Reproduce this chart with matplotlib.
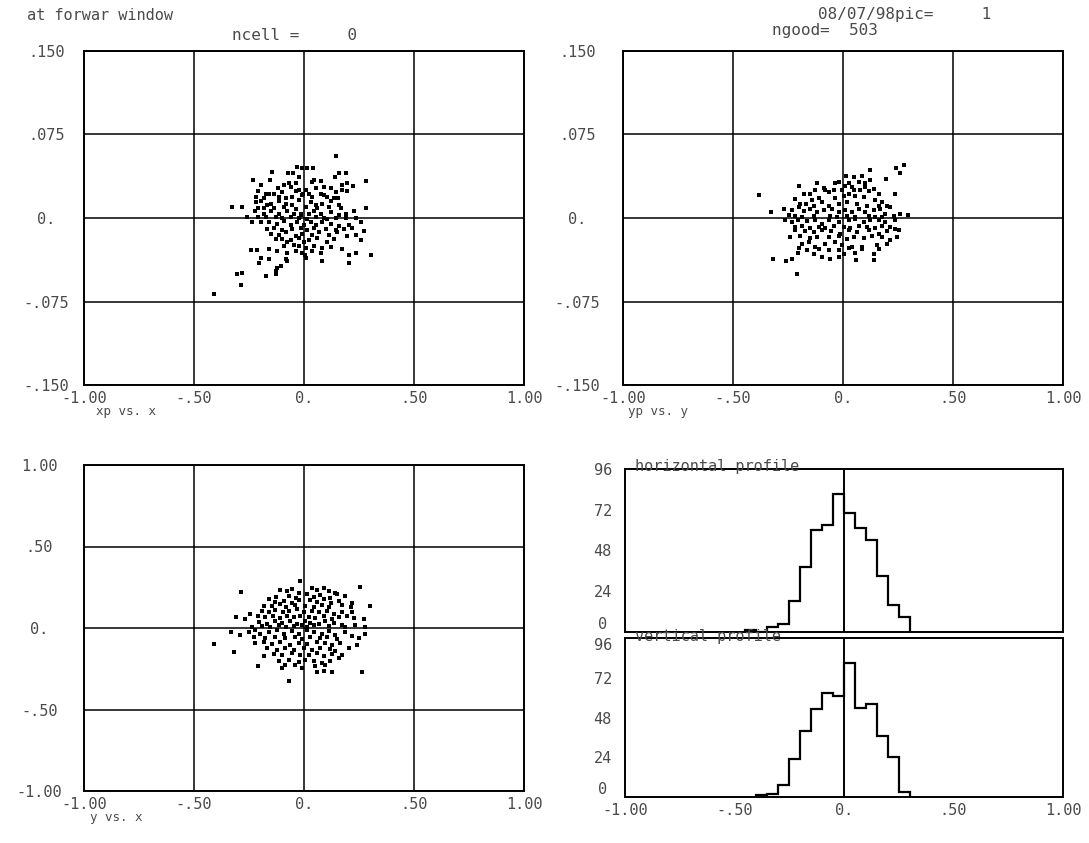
import matplotlib
matplotlib.use("Agg")
import matplotlib.pyplot as plt

# x / xp (top left)
tl_x = [
    0.144, -0.030, -0.008, 0.015, 0.042, -0.147, -0.071, -0.048, 0.159, 0.189,
    0.141, -0.230, -0.156, -0.023, 0.045, -0.197, -0.091, -0.068, -0.038, 0.038,
    0.076, 0.174, 0.197, 0.224, 0.280, -0.118, -0.061, 0.008, 0.053, 0.091,
    0.121, -0.208, -0.174, -0.159, -0.136, -0.102, -0.038, -0.023, 0.023, 0.076,
    0.091, 0.144, 0.174, 0.197, -0.217, -0.182, -0.114, -0.083, -0.053, -0.008,
    0.038, 0.106, 0.136, 0.156, -0.220, -0.197, -0.167, -0.152, -0.114, -0.083,
    -0.053, -0.023, 0.030, 0.053, 0.083, 0.121, 0.159, -0.326, -0.280, -0.208,
    -0.182, -0.136, -0.091, -0.038, 0.008, 0.061, 0.114, 0.167, 0.280, 0.227,
    -0.223, -0.182, -0.152, -0.114, -0.076, -0.045, -0.015, 0.023, 0.045, 0.076,
    0.121, 0.159, 0.189, -0.258, -0.208, -0.174, -0.129, -0.098, -0.061, -0.023,
    0.015, 0.053, 0.091, 0.106, 0.144, 0.189, 0.235, -0.235, -0.197, -0.159,
    -0.121, -0.091, -0.061, -0.030, 0.000, 0.030, 0.053, 0.083, 0.121, 0.159,
    0.205, 0.258, -0.167, -0.136, -0.098, -0.053, -0.015, 0.015, 0.045, 0.098,
    0.144, 0.182, 0.220, 0.273, -0.152, -0.114, -0.080, -0.038, -0.008, 0.038,
    0.068, 0.114, 0.152, 0.197, 0.235, -0.129, -0.098, -0.061, -0.023, 0.023,
    0.061, 0.106, 0.136, 0.258, -0.076, -0.091, -0.045, -0.023, 0.008, 0.045,
    0.083, 0.121, 0.174, -0.242, -0.212, -0.159, -0.121, -0.076, -0.038, -0.008,
    0.038, 0.076, 0.205, 0.235, 0.303, -0.197, -0.159, -0.083, 0.008, 0.083,
    -0.205, -0.106, -0.076, 0.205, -0.121, -0.129, -0.303, -0.280, -0.174, -0.129,
    -0.288, -0.409, 0.005, 0.002, -0.005, -0.015,
]
tl_xp = [
    0.056, 0.046, 0.045, 0.045, 0.045, 0.041, 0.040, 0.040, 0.040, 0.040,
    0.037, 0.034, 0.034, 0.037, 0.034, 0.030, 0.030, 0.031, 0.031, 0.032,
    0.033, 0.030, 0.031, 0.029, 0.033, 0.027, 0.028, 0.025, 0.027, 0.028,
    0.027, 0.024, 0.022, 0.022, 0.022, 0.023, 0.024, 0.025, 0.022, 0.022,
    0.021, 0.023, 0.025, 0.024, 0.019, 0.018, 0.019, 0.018, 0.019, 0.021,
    0.019, 0.019, 0.018, 0.018, 0.014, 0.015, 0.012, 0.013, 0.015, 0.013,
    0.012, 0.016, 0.014, 0.012, 0.013, 0.015, 0.012, 0.010, 0.010, 0.009,
    0.009, 0.009, 0.010, 0.008, 0.010, 0.009, 0.010, 0.009, 0.009, 0.006,
    0.006, 0.004, 0.006, 0.004, 0.006, 0.004, 0.003, 0.004, 0.006, 0.004,
    0.005, 0.003, 0.004, 0.001, 0.001, 0.001, 0.001, 0.000, 0.001, 0.000,
    -0.001, 0.001, 0.000, -0.001, 0.000, 0.000, 0.000, -0.004, -0.004, -0.004,
    -0.005, -0.003, -0.006, -0.004, -0.006, -0.004, -0.006, -0.004, -0.005, -0.007,
    -0.006, -0.004, -0.010, -0.009, -0.011, -0.010, -0.009, -0.011, -0.009, -0.010,
    -0.011, -0.010, -0.009, -0.012, -0.014, -0.015, -0.013, -0.016, -0.014, -0.015,
    -0.013, -0.015, -0.013, -0.016, -0.015, -0.019, -0.019, -0.020, -0.018, -0.020,
    -0.018, -0.022, -0.019, -0.020, -0.022, -0.025, -0.024, -0.025, -0.027, -0.025,
    -0.027, -0.026, -0.028, -0.029, -0.029, -0.028, -0.030, -0.031, -0.030, -0.031,
    -0.030, -0.031, -0.033, -0.031, -0.033, -0.036, -0.037, -0.037, -0.036, -0.039,
    -0.040, -0.043, -0.039, -0.040, -0.045, -0.048, -0.050, -0.049, -0.052, -0.050,
    -0.060, -0.068, -0.033, -0.022, 0.022, 0.004,
]

# y / yp (top right)
tr_y = [
    0.276, 0.261, 0.242, 0.195, 0.238, -0.380, -0.326, -0.209, -0.318, -0.259,
    -0.232, 0.059, 0.139, 0.261, 0.295, 0.245, 0.253, 0.015, 0.048, 0.086,
    0.124, -0.020, 0.026, 0.071, 0.102, 0.124, -0.198, -0.118, -0.080, -0.038,
    0.011, -0.179, -0.148, -0.126, -0.088, -0.065, -0.042, -0.005, 0.026, 0.048,
    0.079, 0.098, 0.117, 0.139, 0.162, 0.041, -0.217, -0.141, -0.111, -0.035,
    0.003, 0.056, 0.094, 0.147, 0.177, -0.197, -0.168, -0.133, -0.095, -0.065,
    -0.020, 0.018, 0.064, 0.109, 0.162, 0.200, 0.215, -0.270, -0.232, -0.202,
    -0.179, -0.148, -0.118, -0.088, -0.050, -0.020, 0.011, 0.041, 0.071, 0.102,
    0.139, 0.170, 0.192, -0.247, -0.217, -0.186, -0.133, -0.058, -0.027, 0.018,
    0.056, 0.117, 0.147, 0.177, 0.230, -0.262, -0.232, -0.205, -0.164, -0.126,
    -0.095, -0.065, -0.020, 0.026, 0.056, 0.094, 0.124, 0.162, 0.192, 0.238,
    -0.217, -0.186, -0.148, -0.111, -0.080, -0.042, 0.003, 0.033, 0.071, 0.109,
    0.147, 0.177, 0.215, -0.220, -0.174, -0.133, -0.095, -0.053, -0.012, 0.026,
    0.064, 0.117, 0.162, 0.200, 0.238, -0.239, -0.194, -0.148, -0.118, -0.065,
    -0.020, 0.018, 0.048, 0.094, 0.132, 0.177, 0.215, -0.186, -0.156, -0.126,
    -0.080, -0.035, -0.005, 0.041, 0.086, 0.155, 0.200, -0.202, -0.164, -0.111,
    -0.065, -0.020, 0.026, 0.086, 0.162, -0.205, -0.133, -0.095, -0.058, 0.003,
    0.056, 0.139, -0.020,
]
tr_yp = [
    0.048, 0.040, 0.045, 0.035, 0.022, 0.021, 0.005, -0.050, -0.037, -0.039,
    -0.037, -0.038, -0.038, 0.004, 0.003, -0.017, -0.011, 0.038, 0.037, 0.038,
    0.043, 0.032, 0.031, 0.032, 0.031, 0.034, 0.029, 0.031, 0.025, 0.031,
    0.029, 0.022, 0.022, 0.025, 0.027, 0.023, 0.025, 0.025, 0.022, 0.025,
    0.025, 0.028, 0.024, 0.026, 0.022, 0.028, 0.017, 0.016, 0.018, 0.018,
    0.020, 0.020, 0.019, 0.016, 0.014, 0.013, 0.013, 0.011, 0.014, 0.011,
    0.013, 0.014, 0.013, 0.011, 0.011, 0.011, 0.010, 0.008, 0.007, 0.010,
    0.006, 0.008, 0.005, 0.007, 0.008, 0.005, 0.007, 0.005, 0.008, 0.005,
    0.007, 0.008, 0.004, 0.003, 0.002, 0.001, 0.002, 0.002, 0.001, 0.002,
    0.001, 0.002, 0.001, 0.001, 0.002, -0.002, -0.004, -0.002, -0.003, -0.002,
    -0.005, -0.002, -0.004, -0.002, -0.001, -0.004, -0.002, -0.002, -0.004, -0.002,
    -0.008, -0.007, -0.009, -0.008, -0.009, -0.007, -0.008, -0.009, -0.007, -0.008,
    -0.009, -0.007, -0.008, -0.011, -0.012, -0.013, -0.011, -0.012, -0.014, -0.011,
    -0.013, -0.011, -0.014, -0.012, -0.010, -0.017, -0.016, -0.018, -0.017, -0.017,
    -0.016, -0.019, -0.017, -0.018, -0.016, -0.017, -0.020, -0.023, -0.022, -0.026,
    -0.023, -0.022, -0.024, -0.026, -0.026, -0.024, -0.023, -0.027, -0.029, -0.028,
    -0.029, -0.029, -0.027, -0.028, -0.028, -0.031, -0.032, -0.035, -0.037, -0.032,
    -0.031, -0.032, -0.035,
]

# x / y (bottom left)
bl_x = [
    -0.017, -0.285, 0.256, -0.411, -0.320, 0.302, 0.264, -0.067, -0.209, -0.100,
    -0.330, -0.308, -0.108, -0.077, -0.055, 0.036, 0.059, 0.089, 0.112, 0.142,
    -0.024, 0.014, -0.127, -0.070, -0.036, 0.044, 0.074, 0.120, 0.150, 0.188,
    -0.161, -0.130, -0.092, -0.055, -0.024, 0.029, 0.059, 0.089, 0.124, 0.158,
    0.218, -0.180, -0.145, -0.108, -0.082, -0.039, 0.006, 0.044, 0.082, 0.112,
    0.173, 0.215, -0.191, -0.161, -0.130, -0.097, -0.067, -0.032, -0.002, 0.036,
    0.067, 0.105, 0.135, 0.173, 0.218, -0.244, -0.209, -0.176, -0.142, -0.108,
    -0.077, -0.047, -0.017, 0.021, 0.052, 0.089, 0.127, 0.158, 0.195, 0.226,
    0.271, -0.267, -0.206, -0.168, -0.133, -0.100, -0.062, -0.032, 0.003, 0.029,
    0.067, 0.097, 0.135, 0.173, 0.233, -0.236, -0.191, -0.153, -0.115, -0.082,
    -0.047, -0.009, 0.014, 0.044, 0.112, 0.188, 0.279, -0.289, -0.252, -0.221,
    -0.198, -0.161, -0.123, -0.092, -0.055, -0.024, 0.014, 0.044, 0.082, 0.112,
    0.142, 0.188, 0.218, 0.279, -0.229, -0.176, -0.130, -0.085, -0.039, -0.009,
    0.029, 0.074, 0.105, 0.150, 0.248, -0.221, -0.183, -0.145, -0.108, -0.062,
    -0.024, 0.014, 0.059, 0.097, 0.127, 0.165, 0.241, -0.168, -0.123, -0.085,
    -0.047, -0.002, 0.036, 0.074, 0.120, 0.142, 0.203, -0.183, -0.138, -0.100,
    -0.055, -0.017, 0.021, 0.059, 0.089, 0.127, 0.173, -0.115, -0.070, -0.024,
    0.006, 0.044, 0.082, 0.120, 0.158, -0.085, -0.039, -0.009, 0.052, 0.097,
    0.059, 0.089, 0.127,
]
bl_y = [
    0.291, 0.220, 0.250, -0.098, -0.148, 0.136, -0.269, -0.327, -0.234, -0.244,
    -0.024, 0.066, 0.236, 0.226, 0.240, 0.246, 0.236, 0.246, 0.226, 0.216,
    0.216, 0.206, 0.192, 0.196, 0.186, 0.192, 0.200, 0.186, 0.206, 0.196,
    0.176, 0.160, 0.166, 0.156, 0.172, 0.172, 0.160, 0.176, 0.156, 0.166,
    0.156, 0.136, 0.132, 0.146, 0.126, 0.140, 0.136, 0.126, 0.140, 0.126,
    0.140, 0.126, 0.106, 0.096, 0.112, 0.096, 0.106, 0.116, 0.100, 0.106,
    0.096, 0.106, 0.086, 0.100, 0.096, 0.086, 0.076, 0.066, 0.076, 0.060,
    0.076, 0.066, 0.076, 0.066, 0.060, 0.076, 0.056, 0.066, 0.076, 0.060,
    0.056, 0.056, 0.036, 0.026, 0.046, 0.032, 0.040, 0.026, 0.046, 0.032,
    0.026, 0.040, 0.032, 0.020, 0.016, 0.006, 0.012, 0.006, 0.016, 0.006,
    0.012, 0.020, 0.006, 0.016, 0.010, 0.006, 0.006, -0.044, -0.024, -0.014,
    -0.034, -0.024, -0.014, -0.034, -0.020, -0.034, -0.014, -0.024, -0.034, -0.020,
    -0.044, -0.024, -0.048, -0.034, -0.054, -0.060, -0.054, -0.064, -0.054, -0.068,
    -0.054, -0.064, -0.054, -0.068, -0.060, -0.094, -0.084, -0.100, -0.088, -0.104,
    -0.094, -0.100, -0.084, -0.094, -0.104, -0.094, -0.104, -0.124, -0.134, -0.120,
    -0.134, -0.124, -0.134, -0.120, -0.128, -0.144, -0.124, -0.174, -0.160, -0.164,
    -0.154, -0.168, -0.164, -0.154, -0.174, -0.160, -0.168, -0.204, -0.194, -0.208,
    -0.194, -0.204, -0.214, -0.200, -0.184, -0.228, -0.224, -0.244, -0.234, -0.224,
    -0.273, -0.263, -0.267,
]

# profiles (bin edges and counts)
hprof_edges = [-0.45, -0.40, -0.35, -0.30, -0.25, -0.20, -0.15, -0.10, -0.05,
               0.00, 0.05, 0.10, 0.15, 0.20, 0.25, 0.30]
hprof_counts = [1, 0, 3, 5, 18, 38, 60, 63, 81, 70, 61, 54, 33, 16, 9]
vprof_edges = [-0.40, -0.35, -0.30, -0.25, -0.20, -0.15, -0.10, -0.05,
               0.00, 0.05, 0.10, 0.15, 0.20, 0.25, 0.30]
vprof_counts = [1, 2, 7, 23, 40, 53, 63, 61, 81, 54, 56, 37, 24, 3]

xticks = [-1.0, -0.5, 0.0, 0.5, 1.0]
xtick_labels = ["-1.00", "-.50", "0.", ".50", "1.00"]
ang_ticks = [-0.15, -0.075, 0.0, 0.075, 0.15]
ang_labels = ["-.150", "-.075", "0.", ".075", ".150"]
pos_ticks = [-1.0, -0.5, 0.0, 0.5, 1.0]
pos_labels = ["-1.00", "-.50", "0.", ".50", "1.00"]
hist_ticks = [0, 24, 48, 72, 96]
hist_labels = ["0", "24", "48", "72", "96"]

W, H = 1089, 843
MONO = "DejaVu Sans Mono"
GRAY = "#4a4a4a"


def rect(x0, y0, x1, y1):
    return [x0 / W, 1 - y1 / H, (x1 - x0) / W, (y1 - y0) / H]


def style(ax, ypad):
    for s in ax.spines.values():
        s.set_linewidth(1.4)
        s.set_color("black")
    ax.tick_params(length=0, labelsize=11, labelcolor=GRAY, pad=4)
    ax.tick_params(axis="y", pad=ypad)
    for lab in ax.get_xticklabels() + ax.get_yticklabels():
        lab.set_fontfamily(MONO)
    for lab in ax.get_yticklabels():
        lab.set_ha("center")


def scatter_panel(ax, xs, ys, yt, yl, ylim, ypad):
    ax.scatter(xs, ys, s=5, marker="s", color="black", linewidths=0, zorder=3)
    ax.set_xlim(-1, 1)
    ax.set_ylim(*ylim)
    ax.set_xticks(xticks, xtick_labels)
    ax.set_yticks(yt, yl)
    ax.grid(True, color="black", lw=1.1)
    style(ax, ypad)


fig = plt.figure(figsize=(W / 100, H / 100), dpi=100)

ax1 = fig.add_axes(rect(84, 51, 524, 385))
scatter_panel(ax1, tl_x, tl_xp, ang_ticks, ang_labels, (-0.15, 0.15), 27)

ax2 = fig.add_axes(rect(623, 51, 1063, 385))
scatter_panel(ax2, tr_y, tr_yp, ang_ticks, ang_labels, (-0.15, 0.15), 33)

ax3 = fig.add_axes(rect(84, 465, 524, 791))
scatter_panel(ax3, bl_x, bl_y, pos_ticks, pos_labels, (-1, 1), 32)

# profiles
ax4 = fig.add_axes(rect(625, 469, 1063, 632))
ax5 = fig.add_axes(rect(625, 638, 1063, 797))
for ax, edges, counts in [(ax4, hprof_edges, hprof_counts), (ax5, vprof_edges, vprof_counts)]:
    ax.stairs(counts, edges, color="black", lw=1.6)
    ax.axvline(0, color="black", lw=1.4)
    ax.set_xlim(-1, 1)
    ax.set_ylim(0, 96)
    ax.set_yticks(hist_ticks, hist_labels)
    ax.set_xticks(xticks, xtick_labels)
    style(ax, 16)
ax4.tick_params(axis="x", labelbottom=False)
# keep the 0 / 96 labels at the join, and the bottom 0, clear of neighbours
ax4.get_yticklabels()[0].set_va("bottom")
ax5.get_yticklabels()[-1].set_va("top")
ax5.get_yticklabels()[0].set_va("bottom")

txt = dict(family=MONO, color=GRAY, va="center", ha="left")
fig.text(27 / W, 1 - 16 / H, "at forwar window", fontsize=11, **txt)
fig.text(232 / W, 1 - 35 / H, "ncell =     0", fontsize=11.5, **txt)
fig.text(818 / W, 1 - 15 / H, "08/07/98pic=     1", fontsize=11.5, **txt)
fig.text(772 / W, 1 - 30 / H, "ngood=  503", fontsize=11.5, **txt)
fig.text(96 / W, 1 - 412 / H, "xp vs. x", fontsize=9, **txt)
fig.text(628 / W, 1 - 412 / H, "yp vs. y", fontsize=9, **txt)
fig.text(90 / W, 1 - 818 / H, "y vs. x", fontsize=9, **txt)
fig.text(635 / W, 1 - 466 / H, "horizontal profile", fontsize=11, **txt)
fig.text(635 / W, 1 - 636 / H, "vertical profile", fontsize=11, **txt)

fig.savefig("out.png", dpi=100)
